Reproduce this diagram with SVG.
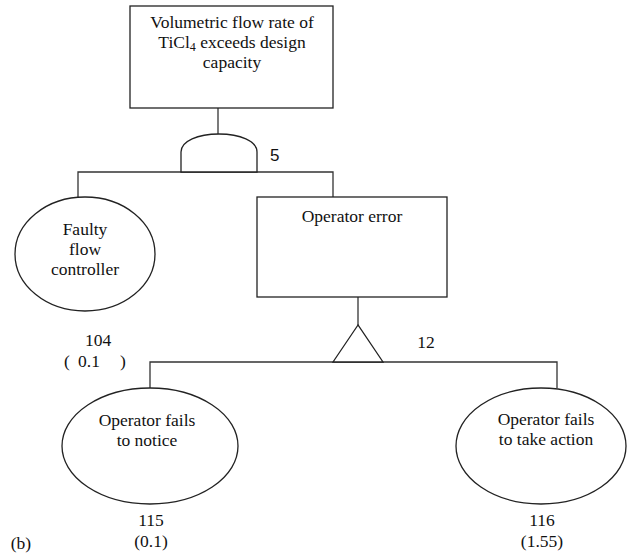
<svg xmlns="http://www.w3.org/2000/svg" width="627" height="555" viewBox="0 0 627 555">
<style>
.s{fill:#fff;stroke:#222;stroke-width:1.3}
.c{fill:none;stroke:#333;stroke-width:1.3}
.t{font-family:"Liberation Serif","Times New Roman",serif;font-size:17.5px;fill:#111;text-anchor:middle}
.n{font-family:"Liberation Sans",Arial,sans-serif;font-size:17px;fill:#111}
</style>
<rect width="627" height="555" fill="#fff"/>
<g id="connectors">
<line class="c" x1="218" y1="108" x2="218" y2="134"/>
<polyline class="c" points="78,197 78,172 333,172 333,197"/>
<line class="c" x1="358" y1="297" x2="358" y2="325"/>
<polyline class="c" points="150,388 150,362 557,362 557,388"/>
</g>
<g id="top">
<rect class="s" x="130" y="6" width="203" height="102"/>
<text class="t" x="232" y="28">Volumetric flow rate of</text>
<text class="t" x="232" y="48">TiCl<tspan font-size="12" dy="3">4</tspan><tspan dy="-3"> exceeds design</tspan></text>
<text class="t" x="232" y="68">capacity</text>
</g>
<g id="and-gate">
<path class="s" d="M181,172 L181,152 C181,141 198,134 219,134 C240,134 257,141 257,152 L257,172 Z"/>
<text class="n" x="270" y="161">5</text>
</g>
<g id="faulty">
<ellipse class="s" cx="85" cy="254" rx="70" ry="57"/>
<text class="t" x="85" y="235">Faulty</text>
<text class="t" x="85" y="255">flow</text>
<text class="t" x="85" y="275">controller</text>
<text class="t" x="98" y="346">104</text>
<text class="t" x="67" y="367">(</text>
<text class="t" x="89" y="367">0.1</text>
<text class="t" x="123" y="367">)</text>
</g>
<g id="operator-error">
<rect class="s" x="257" y="197" width="190" height="100"/>
<text class="t" x="352" y="222">Operator error</text>
</g>
<g id="or-gate">
<polygon class="s" points="358,325 333,362 383,362"/>
<text class="t" x="426" y="348">12</text>
</g>
<g id="notice">
<ellipse class="s" cx="150" cy="446" rx="88" ry="58"/>
<text class="t" x="147" y="426">Operator fails</text>
<text class="t" x="147" y="446">to notice</text>
<text class="t" x="151" y="526">115</text>
<text class="t" x="151" y="547">(0.1)</text>
</g>
<g id="action">
<ellipse class="s" cx="541" cy="446" rx="85" ry="58"/>
<text class="t" x="546" y="425">Operator fails</text>
<text class="t" x="546" y="445">to take action</text>
<text class="t" x="542" y="526">116</text>
<text class="t" x="542" y="547">(1.55)</text>
</g>
<text class="t" x="21" y="549" font-size="19">(b)</text>
</svg>
